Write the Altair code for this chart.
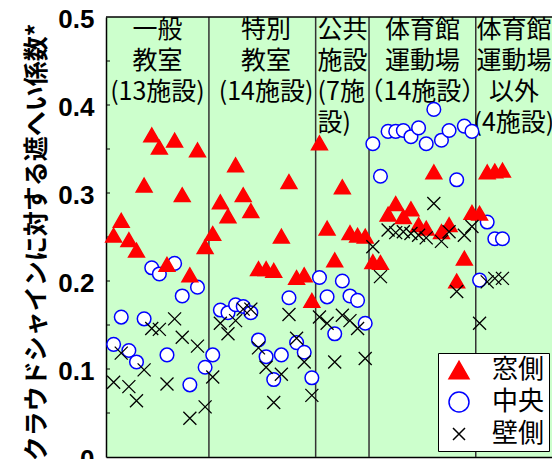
import altair as alt
import pandas as pd

# ---- data ----
series_order = ["窓側", "中央", "壁側"]

facility = list(range(1, 53))

window_vals = [
    0.252, 0.269, 0.247, 0.235, 0.309, 0.366, 0.352, 0.219, 0.360, 0.298, 0.207, 0.349, 0.239,
    0.254, 0.290, 0.274, 0.332, 0.298, 0.280, 0.214, 0.214, 0.212, 0.251, 0.313, 0.204, 0.207, 0.178,
    0.357, 0.260, 0.224, 0.307, 0.255, 0.252, 0.251,
    0.222, 0.221, 0.276, 0.288, 0.273, 0.282, 0.264, 0.260, 0.324, 0.256, 0.264, 0.200, 0.226, 0.278,
    0.277, 0.324, 0.325, 0.326,
]
center_vals = [
    0.128, 0.159, 0.121, 0.108, 0.157, 0.215, 0.208, 0.116, 0.220, 0.183, 0.082, 0.193, 0.102,
    0.116, 0.167, 0.164, 0.173, 0.171, 0.164, 0.133, 0.114, 0.088, 0.116, 0.181, 0.130, 0.119, 0.090,
    0.204, 0.182, 0.140, 0.200, 0.183, 0.178, 0.152,
    0.356, 0.319, 0.370, 0.370, 0.371, 0.364, 0.374, 0.356, 0.395, 0.360, 0.371, 0.315, 0.376, 0.370,
    0.201, 0.267, 0.248, 0.248,
]
wall_vals = [
    0.085, 0.118, 0.080, 0.064, 0.099, 0.146, 0.145, 0.083, 0.157, 0.136, 0.044, 0.126, 0.057,
    0.091, 0.152, 0.140, 0.155, 0.168, 0.168, 0.124, 0.102, 0.062, 0.094, 0.162, 0.135, 0.108, 0.070,
    0.159, 0.152, 0.108, 0.161, 0.155, 0.146, 0.112,
    0.239, 0.205, 0.258, 0.255, 0.256, 0.254, 0.252, 0.249, 0.288, 0.245, 0.256, 0.188, 0.252, 0.262,
    0.152, 0.199, 0.203, 0.203,
]

dividers = [13.5, 27.5, 34.5, 48.5]

group_labels_center = ["一般\n教室\n(13施設)", "特別\n教室\n(14施設)",
                       "体育館\n運動場\n（14施設）", "体育館\n運動場\n以外\n(4施設)"]
group_label_x_center = [6.75, 21.0, 41.5, 53.5]
group_labels_left = ["公共\n施設\n(7施\n設)"]
group_label_x_left = [27.75]

y_ticks = [round(i * 0.05, 2) for i in range(11)]
inner_ticks = [round(i * 0.05, 2) for i in range(1, 10)]

X_MAX = 58.5
Y_MAX = 0.5

# ---- tables ----
win_df = pd.DataFrame({"facility": facility, "value": window_vals, "series": "窓側"})
cen_df = pd.DataFrame({"facility": facility, "value": center_vals, "series": "中央"})
wal_df = pd.DataFrame({"facility": facility, "value": wall_vals, "series": "壁側"})

div_df = pd.DataFrame({"x": dividers})
lab_c_df = pd.DataFrame({"x": group_label_x_center, "text": group_labels_center, "ytop": Y_MAX})
lab_l_df = pd.DataFrame({"x": group_label_x_left, "text": group_labels_left, "ytop": Y_MAX})
top_df = pd.DataFrame({"ytop": [Y_MAX]})
tick_df = pd.DataFrame({"v": inner_ticks})

xscale = alt.Scale(domain=[0, X_MAX], nice=False, zero=False)
yscale = alt.Scale(domain=[0, Y_MAX], nice=False, zero=True)

xaxis = alt.Axis(labels=False, ticks=False, title=None, grid=False,
                 domainColor="black", domainWidth=1.5)
yaxis = alt.Axis(
    values=y_ticks,
    labelExpr="round(datum.value*20) % 2 == 0 ? format(datum.value, '.1~f') : ''",
    labelOverlap=False,
    tickSize=0, grid=False,
    domainColor="black", domainWidth=1.5,
    labelFont="Liberation Sans", labelFontWeight="bold", labelFontSize=26,
    labelColor="black", labelPadding=12, labelOffset=2,
    title="クラウドシャインに対する遮へい係数*",
    titleFont="Noto Sans CJK JP", titleFontSize=25, titleFontWeight="bold",
    titleColor="black", titleX=-70, titleY=225, titleAlign="center",
    titleBaseline="middle", titleAngle=270,
)

X_PATH = "M-0.6,-0.6L0.6,0.6M-0.6,0.6L0.6,-0.6"

legend = alt.Legend(
    orient="none", legendX=332, legendY=336, title=None,
    fillColor="white", strokeColor="black", padding=4,
    labelFont="Noto Sans CJK JP", labelFontSize=26, labelColor="black",
    symbolSize=400, symbolStrokeWidth=1.5, symbolOffset=4,
    rowPadding=6, labelOffset=20,
    labelExpr="datum.label + '\u2009\u2009'",
)
shape_enc = alt.Shape("series:N", scale=alt.Scale(domain=series_order,
                                                  range=["triangle-up", "circle", X_PATH]),
                      legend=legend)
fill_enc = alt.Fill("series:N", scale=alt.Scale(domain=series_order,
                                                range=["#FF0000", "#FFFFFF", "transparent"]),
                    legend=legend)
stroke_enc = alt.Stroke("series:N", scale=alt.Scale(domain=series_order,
                                                    range=["#FF0000", "#0000FF", "#000000"]),
                        legend=legend)


def point_layer(df, size, sw):
    return alt.Chart(df).mark_point(filled=False, opacity=1, strokeWidth=sw, size=size).encode(
        x=alt.X("facility:Q", scale=xscale, axis=xaxis),
        y=alt.Y("value:Q", scale=yscale, axis=yaxis),
        shape=shape_enc, fill=fill_enc, stroke=stroke_enc,
    )


circles = point_layer(cen_df, 185, 1.5)
triangles = point_layer(win_df, 250, 1.5)
crosses = point_layer(wal_df, 470, 1.3)

div_rules = alt.Chart(div_df).mark_rule(color="#333333", strokeWidth=1.5).encode(
    x=alt.X("x:Q", scale=xscale, axis=xaxis),
)

top_rule = alt.Chart(top_df).mark_rule(color="black", strokeWidth=1.5).encode(
    y=alt.Y("ytop:Q", scale=yscale, axis=yaxis),
)

ticks = alt.Chart(tick_df).mark_rule(color="black", strokeWidth=1).encode(
    y=alt.Y("v:Q", scale=yscale, axis=yaxis),
    x=alt.value(0), x2=alt.value(4),
)

text_common = dict(lineBreak="\n", lineHeight=31, baseline="top", fontSize=25,
                   font="Noto Sans CJK JP", color="black", dy=1)

labels_c = alt.Chart(lab_c_df).mark_text(align="center", **text_common).encode(
    x=alt.X("x:Q", scale=xscale, axis=xaxis),
    y=alt.Y("ytop:Q", scale=yscale, axis=yaxis),
    text="text:N",
)
labels_l = alt.Chart(lab_l_df).mark_text(align="left", **text_common).encode(
    x=alt.X("x:Q", scale=xscale, axis=xaxis),
    y=alt.Y("ytop:Q", scale=yscale, axis=yaxis),
    text="text:N",
)

chart = alt.layer(div_rules, top_rule, ticks, labels_c, labels_l,
                  circles, triangles, crosses).properties(
    width=446, height=440,
    autosize=alt.AutoSizeParams(type="none"),
    padding={"left": 98, "top": 9, "right": 0, "bottom": 2},
).configure_view(fill="#CCFFCC", stroke=None)

chart.save("out.html", embed_options={"renderer": "svg", "actions": False})
